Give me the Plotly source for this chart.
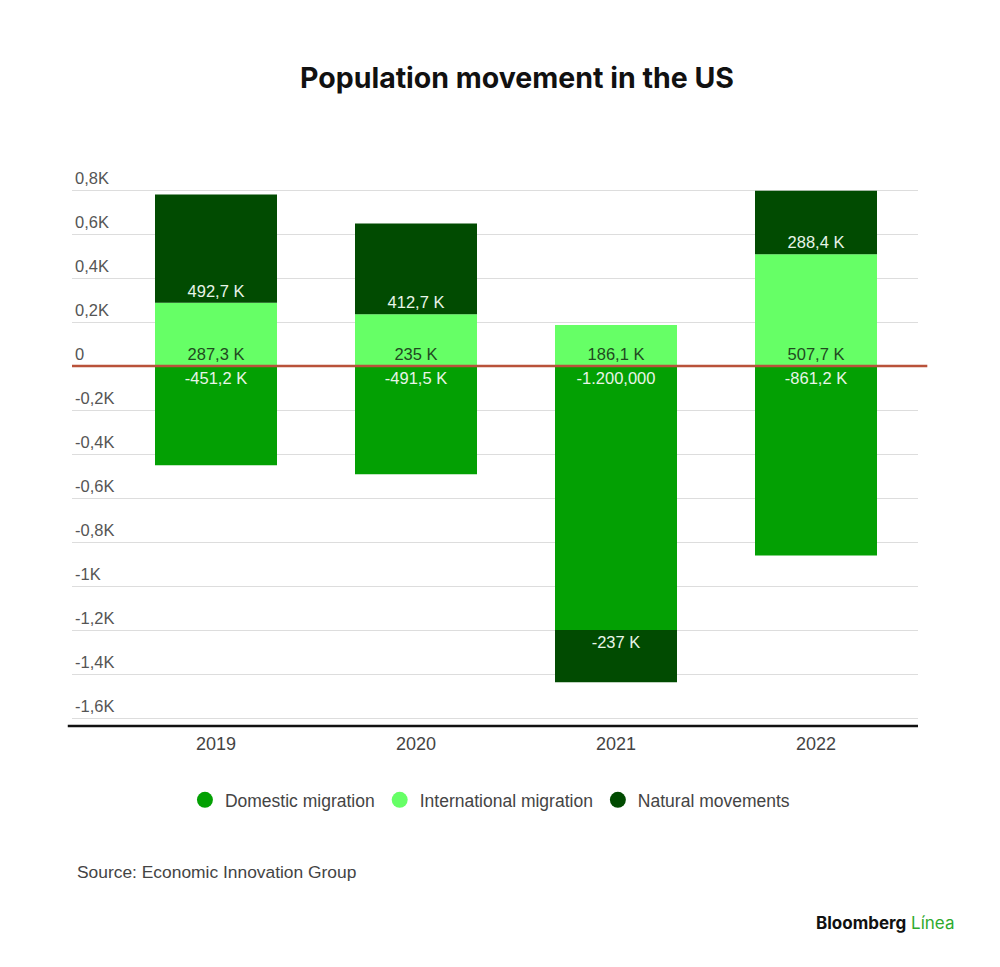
import plotly.graph_objects as go

# valores en miles de personas
years = ["2019", "2020", "2021", "2022"]
domestic = [-451.2, -491.5, -1200.0, -861.2]
international = [287.3, 235.0, 186.1, 507.7]
natural = [492.7, 412.7, -237.0, 288.4]

domestic_labels = ["-451,2 K", "-491,5 K", "-1.200,000", "-861,2 K"]
international_labels = ["287,3 K", "235 K", "186,1 K", "507,7 K"]
natural_labels = ["492,7 K", "412,7 K", "-237 K", "288,4 K"]

y_ticks = [0.8, 0.6, 0.4, 0.2, 0, -0.2, -0.4, -0.6, -0.8, -1.0, -1.2, -1.4, -1.6]
y_tick_text = ["0,8K", "0,6K", "0,4K", "0,2K", "0", "-0,2K", "-0,4K", "-0,6K",
               "-0,8K", "-1K", "-1,2K", "-1,4K", "-1,6K"]

series = [
    ("Domestic migration", domestic, domestic_labels, "#03a003", "#e8f5e8"),
    ("International migration", international, international_labels, "#66ff66", "#1f4a1f"),
    ("Natural movements", natural, natural_labels, "#014b01", "#e8f5e8"),
]

FONT = "Liberation Sans"

fig = go.Figure()

for name, vals, labels, color, txtcolor in series:
    fig.add_trace(go.Bar(
        x=years,
        y=[v / 1000 for v in vals],
        name=name,
        text=labels,
        textposition="inside",
        insidetextanchor="start",
        textangle=0,
        textfont=dict(family=FONT, size=16.5, color=txtcolor),
        marker=dict(color=color, line=dict(width=0)),
        width=0.61,
        showlegend=False,
        hoverinfo="skip",
    ))

# leyenda con círculos
for name, vals, labels, color, txtcolor in series:
    fig.add_trace(go.Scatter(
        x=[None], y=[None], mode="markers", name=name,
        marker=dict(color=color, size=22, symbol="circle"),
    ))

# línea del cero (roja) y eje inferior
fig.add_shape(type="line", xref="paper", yref="y", x0=0, x1=1.011, y0=0, y1=0,
              line=dict(color="#b9523a", width=2.5))
fig.add_shape(type="line", xref="paper", yref="paper", x0=-0.005, x1=1, y0=0, y1=0,
              line=dict(color="#111111", width=2.5))

fig.update_layout(
    width=1000,
    height=967,
    barmode="relative",
    plot_bgcolor="white",
    paper_bgcolor="white",
    margin=dict(l=64, r=90, t=160, b=249),
    title=dict(
        text="<b>Population movement in the US</b>",
        x=0.509, xanchor="center", y=0.9276, yanchor="middle",
        font=dict(family="Inter", size=28.5, color="#111111"),
    ),
    font=dict(family=FONT, color="#444444"),
    xaxis=dict(
        type="category",
        range=[-0.72, 3.51],
        showgrid=False,
        showline=False,
        ticks="",
        ticklabelstandoff=5,
        tickfont=dict(family=FONT, size=18, color="#444444"),
    ),
    yaxis=dict(
        range=[-1.636, 0.9],
        tickvals=y_ticks,
        ticktext=y_tick_text,
        ticklabelposition="inside top",
        tickfont=dict(family=FONT, size=16.5, color="#555555"),
        showgrid=True,
        gridcolor="#dddddd",
        gridwidth=1,
        zeroline=False,
        showline=False,
        ticks="",
    ),
    legend=dict(
        orientation="h",
        x=0.494, xanchor="center",
        y=-0.1326, yanchor="middle",
        font=dict(family=FONT, size=17.5, color="#444444"),
        itemsizing="trace",
    ),
    annotations=[
        dict(text="Source: Economic Innovation Group", xref="paper", yref="paper",
             x=0.0035, y=-0.262, xanchor="left", yanchor="middle", showarrow=False,
             font=dict(family=FONT, size=17.4, color="#444444")),
        dict(text="<b>Bloomberg</b> <span style='color:#2eaa2e'>Línea</span>", xref="paper",
             yref="paper", x=1.046, y=-0.353, xanchor="right", yanchor="middle",
             showarrow=False, font=dict(family="Inter", size=17, color="#111111")),
    ],
)

fig.write_html("out.html")
